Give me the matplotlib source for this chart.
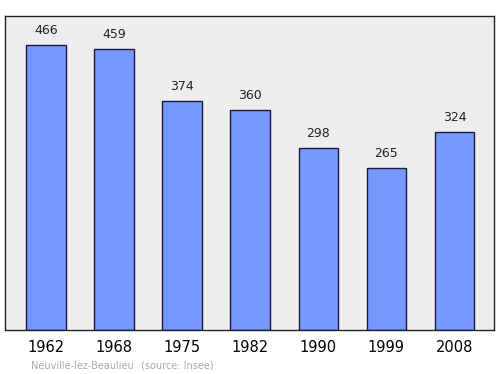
import matplotlib
matplotlib.use("Agg")
import matplotlib.pyplot as plt

years = ["1962", "1968", "1975", "1982", "1990", "1999", "2008"]
population = [466, 459, 374, 360, 298, 265, 324]

fig = plt.figure(figsize=(5, 3.74), dpi=100)
ax = fig.add_axes([0.01, 0.1176, 0.978, 0.84])
ax.set_facecolor("#eeeeee")

x = range(len(years))
ax.bar(x, population, width=0.58, color="#7799ff", edgecolor="#1a1a40", linewidth=1)
for i, v in zip(x, population):
    ax.text(i, v + 13, str(v), ha="center", va="bottom", fontsize=9, color="#222222")

ax.set_xlim(-0.6, 6.58)
ax.set_ylim(0, 513)
ax.set_yticks([])
ax.set_xticks(list(x))
ax.set_xticklabels(years, fontsize=10.5)
ax.tick_params(axis="x", length=0, pad=7)
for s in ax.spines.values():
    s.set_color("#222222")
    s.set_linewidth(1)

fig.text(0.062, 0.014, "Neuville-lez-Beaulieu", fontsize=7, color="#aaaaaa")
fig.text(0.282, 0.014, "(source: Insee)", fontsize=7, color="#aaaaaa")

fig.savefig("out.png", dpi=100)
